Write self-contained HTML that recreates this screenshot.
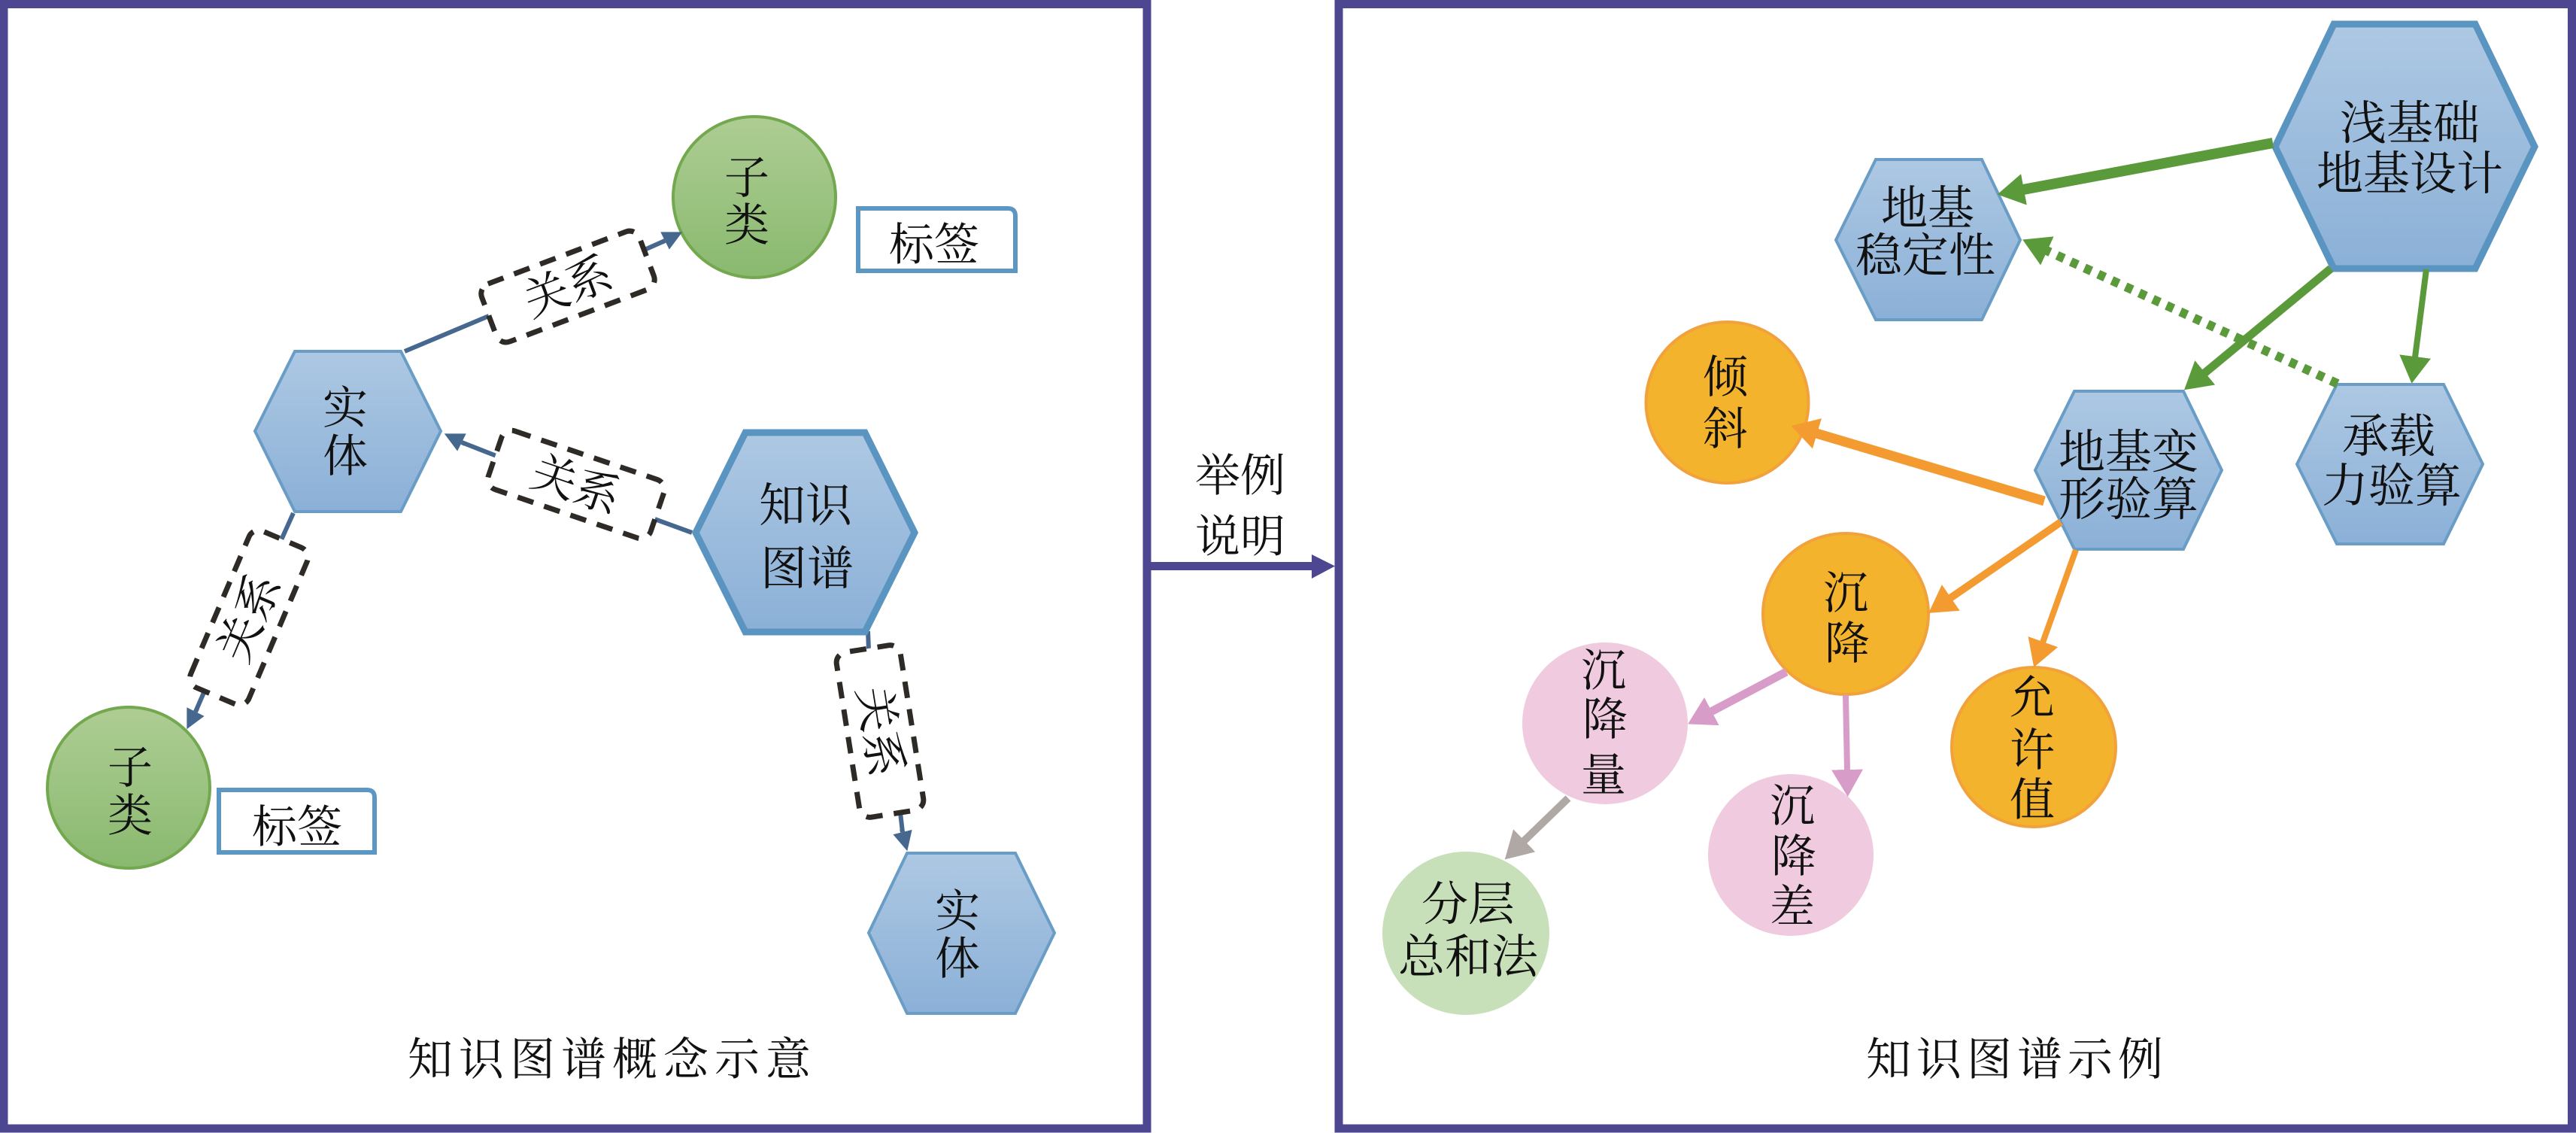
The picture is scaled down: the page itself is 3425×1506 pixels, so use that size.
<!DOCTYPE html>
<html>
<head>
<meta charset="utf-8">
<style>
html,body{margin:0;padding:0;background:#fff;width:3425px;height:1506px;overflow:hidden}
svg{display:block}
text{font-family:"Noto Serif CJK SC","Noto Serif CJK",serif;font-weight:400;fill:#111;text-anchor:middle;font-size:60px}
.b{font-size:62px}
</style>
</head>
<body>
<svg width="3425" height="1506" viewBox="0 0 3425 1506" xmlns="http://www.w3.org/2000/svg">
<defs>
<linearGradient id="gb" x1="0" y1="0" x2="0" y2="1"><stop offset="0" stop-color="#adc8e3"/><stop offset="1" stop-color="#8bb0d7"/></linearGradient>
<linearGradient id="gg" x1="0" y1="0" x2="0" y2="1"><stop offset="0" stop-color="#aecd94"/><stop offset="1" stop-color="#89b96f"/></linearGradient>
<marker id="ms" markerUnits="userSpaceOnUse" markerWidth="30" markerHeight="32" refX="0" refY="16" orient="auto"><path d="M0,3 L26,16 L0,29 Z" fill="#46688f"/></marker>
<marker id="mg" markerUnits="userSpaceOnUse" markerWidth="40" markerHeight="46" refX="1" refY="23" orient="auto"><path d="M0,2 L36,23 L0,44 Z" fill="#5b9a3a"/></marker>
<marker id="mo" markerUnits="userSpaceOnUse" markerWidth="40" markerHeight="46" refX="1" refY="23" orient="auto"><path d="M0,2 L36,23 L0,44 Z" fill="#f39a30"/></marker>
<marker id="mp" markerUnits="userSpaceOnUse" markerWidth="40" markerHeight="46" refX="1" refY="23" orient="auto"><path d="M0,2 L36,23 L0,44 Z" fill="#d89cc8"/></marker>
<marker id="my" markerUnits="userSpaceOnUse" markerWidth="40" markerHeight="46" refX="1" refY="23" orient="auto"><path d="M0,2 L36,23 L0,44 Z" fill="#afa8a4"/></marker>
</defs>

<!-- frames -->
<rect x="5" y="5.5" width="1520" height="1494.5" fill="#fff" stroke="#4d4690" stroke-width="11"/>
<rect x="1780" y="5.5" width="1639.5" height="1494.5" fill="#fff" stroke="#4d4690" stroke-width="11"/>
<rect x="1530" y="747" width="216" height="11" fill="#4d4690"/>
<polygon points="1744,737 1775,752.5 1744,769" fill="#4d4690"/>
<text x="1649" y="653">举例</text>
<text x="1649" y="734">说明</text>

<!-- left connectors -->
<g fill="none" stroke="#46688f" stroke-width="6">
<line x1="538" y1="467" x2="650" y2="420"/>
<line x1="857" y1="332" x2="884" y2="320"/>
<line x1="920" y1="708" x2="865" y2="688"/>
<line x1="660" y1="606" x2="614" y2="588"/>
<line x1="390" y1="682" x2="372" y2="722"/>
<line x1="273" y1="916" x2="260" y2="946"/>
<line x1="1154" y1="839" x2="1155" y2="864"/>
<line x1="1197" y1="1080" x2="1200" y2="1106"/>
</g>

<!-- dashed relation boxes -->
<g fill="#fff" stroke="#2e2a26" stroke-width="7" stroke-dasharray="22 15">
<rect x="-112" y="-41" width="224" height="82" rx="14" transform="translate(755 381) rotate(-20.7)"/>
<rect x="-114" y="-41" width="228" height="82" rx="14" transform="translate(766 644) rotate(18.8)"/>
<rect x="-113" y="-42" width="226" height="84" rx="14" transform="translate(331 821) rotate(-67)"/>
<rect x="-111" y="-43" width="222" height="86" rx="14" transform="translate(1170 972) rotate(81)"/>
</g>
<text transform="translate(755 381) rotate(-20.7)" y="21" font-size="58">关系</text>
<text transform="translate(766 644) rotate(18.8)" y="21">关系</text>
<text transform="translate(331 821) rotate(-67)" y="21">关系</text>
<text transform="translate(1170 972) rotate(81)" y="21">关系</text>

<!-- left nodes -->
<ellipse cx="1003" cy="262" rx="108" ry="107" fill="url(#gg)" stroke="#74a84f" stroke-width="4"/>
<ellipse cx="171" cy="1047" rx="108" ry="107" fill="url(#gg)" stroke="#74a84f" stroke-width="4"/>
<polygon points="339,573 392,467 533,467 586,573 533,680 392,680" fill="url(#gb)" stroke="#6a9dc6" stroke-width="4"/>
<polygon points="1155,1240 1206,1134 1350,1134 1402,1240 1350,1347 1206,1347" fill="url(#gb)" stroke="#6a9dc6" stroke-width="4"/>
<polygon points="925,708 991,575 1150,575 1216,708 1150,840 991,840" fill="url(#gb)" stroke="#5a94c0" stroke-width="9"/>
<path d="M1141,277 H1340 Q1350,277 1350,287 V360 H1141 Z" fill="#fff" stroke="#5b97c2" stroke-width="6"/>
<path d="M291,1050 H488 Q498,1050 498,1060 V1133 H291 Z" fill="#fff" stroke="#5b97c2" stroke-width="6"/>

<!-- left arrowheads on top of nodes -->
<g fill="none" stroke="#46688f" stroke-width="6">
<line x1="880" y1="322" x2="884" y2="320" marker-end="url(#ms)"/>
<line x1="618" y1="590" x2="614" y2="588" marker-end="url(#ms)"/>
<line x1="262" y1="942" x2="260" y2="946" marker-end="url(#ms)"/>
<line x1="1199" y1="1102" x2="1200" y2="1106" marker-end="url(#ms)"/>
</g>

<text x="993" y="257">子</text>
<text x="993" y="320">类</text>
<text x="1242" y="346">标签</text>
<text x="459" y="563">实</text>
<text x="459" y="627">体</text>
<text class="b" x="1071" y="693">知识</text>
<text class="b" x="1073" y="777">图谱</text>
<text x="173" y="1041">子</text>
<text x="173" y="1105">类</text>
<text x="395" y="1120">标签</text>
<text x="1273" y="1232">实</text>
<text x="1273" y="1295">体</text>
<text x="814" y="1429" letter-spacing="8">知识图谱概念示意</text>
<text x="2682" y="1429" letter-spacing="7">知识图谱示例</text>

<!-- right nodes -->
<polygon points="3025,195 3103,32 3291,32 3370,195 3291,357 3103,357" fill="url(#gb)" stroke="#5a94c0" stroke-width="9"/>
<polygon points="2441,319 2494,212 2635,212 2686,319 2635,425 2494,425" fill="url(#gb)" stroke="#6a9dc6" stroke-width="4"/>
<polygon points="2706,625 2758,520 2903,520 2954,625 2903,730 2758,730" fill="url(#gb)" stroke="#6a9dc6" stroke-width="4"/>
<polygon points="3054,617 3107,511 3249,511 3301,617 3249,723 3107,723" fill="url(#gb)" stroke="#6a9dc6" stroke-width="4"/>
<ellipse cx="2296.500" cy="535" rx="108" ry="107" fill="#f3b32c" stroke="#f2a23c" stroke-width="4"/>
<ellipse cx="2454" cy="816" rx="110" ry="107" fill="#f3b32c" stroke="#f2a23c" stroke-width="4"/>
<ellipse cx="2704" cy="993" rx="109" ry="106" fill="#f3b32c" stroke="#f2a23c" stroke-width="4"/>
<ellipse cx="2134" cy="961.500" rx="110" ry="107.500" fill="#f0cbe0"/>
<ellipse cx="2381" cy="1136.500" rx="110" ry="107.500" fill="#f0cbe0"/>
<ellipse cx="1949" cy="1240.500" rx="111" ry="108.500" fill="#c8e0b9"/>

<!-- right connectors -->
<g fill="none" stroke-linecap="butt">
<line x1="3022" y1="190" x2="2690" y2="252" stroke="#5b9a3a" stroke-width="14" marker-end="url(#mg)"/>
<line x1="3108" y1="510" x2="2721" y2="333" stroke="#5b9a3a" stroke-width="12" stroke-dasharray="10 10" marker-end="url(#mg)"/>
<line x1="3099" y1="357" x2="2931" y2="496" stroke="#5b9a3a" stroke-width="11" marker-end="url(#mg)"/>
<line x1="3226" y1="358" x2="3211" y2="475" stroke="#5b9a3a" stroke-width="8" marker-end="url(#mg)"/>
<line x1="2718" y1="666" x2="2415" y2="576" stroke="#f39a30" stroke-width="13" marker-end="url(#mo)"/>
<line x1="2740" y1="694" x2="2593" y2="795" stroke="#f39a30" stroke-width="10" marker-end="url(#mo)"/>
<line x1="2760" y1="731" x2="2716" y2="854" stroke="#f39a30" stroke-width="8" marker-end="url(#mo)"/>
<line x1="2375" y1="893" x2="2275" y2="946" stroke="#d89cc8" stroke-width="11" marker-end="url(#mp)"/>
<line x1="2454" y1="924" x2="2456" y2="1024" stroke="#d89cc8" stroke-width="8" marker-end="url(#mp)"/>
<line x1="2085" y1="1061" x2="2026" y2="1118" stroke="#afa8a4" stroke-width="10" marker-end="url(#my)"/>
</g>

<text class="b" x="3204" y="185">浅基础</text>
<text class="b" x="3204" y="252">地基设计</text>
<text class="b" x="2563" y="298">地基</text>
<text class="b" x="2560" y="361">稳定性</text>
<text class="b" x="2830" y="622">地基变</text>
<text class="b" x="2830" y="685">形验算</text>
<text class="b" x="3176" y="601">承载</text>
<text class="b" x="3180" y="667">力验算</text>
<text x="2294" y="522">倾</text>
<text x="2294" y="591">斜</text>
<text x="2454" y="809">沉</text>
<text x="2456" y="876">降</text>
<text x="2132" y="912">沉</text>
<text x="2134" y="977">降</text>
<text x="2132" y="1051">量</text>
<text x="2383" y="1092">沉</text>
<text x="2385" y="1159">降</text>
<text x="2383" y="1226">差</text>
<text x="2702" y="948">允</text>
<text x="2702" y="1018">许</text>
<text x="2702" y="1084">值</text>
<text class="b" x="1952" y="1223">分层</text>
<text class="b" x="1952" y="1293">总和法</text>
</svg>
</body>
</html>
